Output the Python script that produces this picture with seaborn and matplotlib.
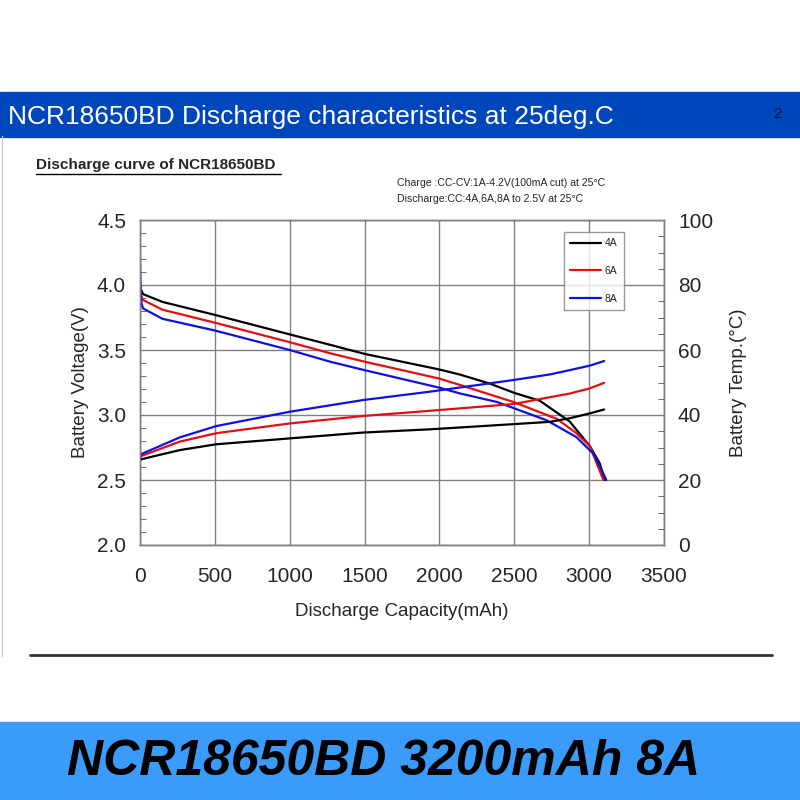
import pandas as pd
import seaborn as sns
import matplotlib.pyplot as plt
from matplotlib.patches import Rectangle
from matplotlib.lines import Line2D
from matplotlib.ticker import MultipleLocator

# data
cap_4a_v = [0, 5, 20, 150, 500, 1000, 1270, 1500, 2000, 2140, 2340, 2500, 2670, 2870, 3005, 3070, 3105]
volt_4a = [4.02, 3.97, 3.93, 3.87, 3.77, 3.62, 3.54, 3.47, 3.35, 3.31, 3.24, 3.17, 3.11, 2.95, 2.76, 2.63, 2.50]
cap_6a_v = [0, 5, 20, 150, 500, 1000, 1270, 1500, 2000, 2140, 2495, 2785, 2915, 3005, 3095]
volt_6a = [3.98, 3.92, 3.885, 3.81, 3.71, 3.56, 3.475, 3.41, 3.28, 3.23, 3.10, 2.97, 2.86, 2.76, 2.50]
cap_8a_v = [0, 3, 10, 20, 150, 500, 1000, 1270, 1500, 2000, 2140, 2385, 2715, 2915, 3030, 3115]
volt_8a = [4.18, 4.0, 3.86, 3.82, 3.74, 3.65, 3.50, 3.41, 3.345, 3.21, 3.165, 3.10, 2.96, 2.83, 2.70, 2.50]

cap_temp = [0, 10, 265, 510, 1000, 1490, 1940, 2500, 2740, 2870, 3005, 3100]
temp_4a = [26.0, 26.4, 29.2, 31.0, 32.8, 34.6, 35.6, 37.2, 37.9, 39.0, 40.5, 41.7]
temp_6a = [26.8, 27.4, 31.8, 34.4, 37.4, 39.7, 41.3, 43.4, 45.5, 46.6, 48.2, 49.9]
temp_8a = [27.4, 28.0, 33.1, 36.6, 41.0, 44.6, 47.2, 50.8, 52.5, 53.8, 55.2, 56.6]

labels = ["4A", "6A", "8A"]
colors = ["#000000", "#e01010", "#1010e0"]

volt = pd.concat([
    pd.DataFrame({"cap": cap_4a_v, "v": volt_4a, "cur": "4A"}),
    pd.DataFrame({"cap": cap_6a_v, "v": volt_6a, "cur": "6A"}),
    pd.DataFrame({"cap": cap_8a_v, "v": volt_8a, "cur": "8A"}),
])
temp = pd.concat([
    pd.DataFrame({"cap": cap_temp, "t": temp_4a, "cur": "4A"}),
    pd.DataFrame({"cap": cap_temp, "t": temp_6a, "cur": "6A"}),
    pd.DataFrame({"cap": cap_temp, "t": temp_8a, "cur": "8A"}),
])

sns.set_style("white")
plt.rcParams['font.family'] = ['Liberation Sans', 'DejaVu Sans']

fig = plt.figure(figsize=(8, 8), dpi=100)

# slide decorations
fig.patches.append(Rectangle((0, 0.82875), 1, 0.05625, transform=fig.transFigure,
                             color="#0046bb", zorder=0))
fig.patches.append(Rectangle((0, 0), 1, 0.0975, transform=fig.transFigure,
                             color="#3a9bfb", zorder=0))
fig.lines.append(Line2D([0.0375, 0.965], [0.18125, 0.18125], transform=fig.transFigure,
                        color="#333333", lw=2))
fig.lines.append(Line2D([0.002, 0.002], [0.18, 0.83], transform=fig.transFigure,
                        color="#cccccc", lw=1))

fig.text(0.01, 0.854, "NCR18650BD Discharge characteristics at 25deg.C", color="white",
         fontsize=19, va="center", ha="left")
fig.text(0.9725, 0.857, "2", color="#15153a", fontsize=11, va="center", ha="center")
fig.text(0.045, 0.794, "Discharge curve of NCR18650BD", fontsize=11, fontweight="bold",
         va="center", ha="left")
fig.lines.append(Line2D([0.045, 0.351], [0.783, 0.783], transform=fig.transFigure,
                        color="black", lw=1))
fig.text(0.496, 0.771, "Charge :CC-CV:1A-4.2V(100mA cut) at 25°C", fontsize=7.6,
         va="center", ha="left")
fig.text(0.496, 0.751, "Discharge:CC:4A,6A,8A to 2.5V at 25°C", fontsize=7.6,
         va="center", ha="left")
fig.text(0.48, 0.047, "NCR18650BD 3200mAh 8A", fontsize=36, fontweight="bold",
         fontstyle="italic", va="center", ha="center", color="black")

ax = fig.add_axes([0.175, 0.31875, 0.655, 0.40625])
ax2 = ax.twinx()

sns.lineplot(data=volt, x="cap", y="v", hue="cur", palette=colors, sort=False,
             estimator=None, lw=1.6, ax=ax)
sns.lineplot(data=temp, x="cap", y="t", hue="cur", palette=colors, sort=False,
             estimator=None, lw=1.6, ax=ax2, legend=False)

ax.set_xlim(0, 3500)
ax.set_ylim(2.0, 4.5)
ax2.set_ylim(0, 100)
ax.xaxis.set_major_locator(MultipleLocator(500))
ax.xaxis.set_minor_locator(MultipleLocator(50))
ax.yaxis.set_major_locator(MultipleLocator(0.5))
ax.yaxis.set_minor_locator(MultipleLocator(0.1))
ax2.yaxis.set_major_locator(MultipleLocator(20))
ax2.yaxis.set_minor_locator(MultipleLocator(5))
ax.yaxis.set_major_formatter(plt.FormatStrFormatter("%.1f"))

ax.grid(True, which="major", color="#808080", lw=1)
for a in (ax, ax2):
    for s in a.spines.values():
        s.set_color("#808080")
        s.set_linewidth(1)
    a.tick_params(which="both", direction="in", color="#555555", labelsize=15)
    a.tick_params(which="major", length=0, pad=10)
    a.tick_params(which="minor", length=4)
ax.tick_params(axis="x", which="major", pad=16)

ax.set_xlabel("Discharge Capacity(mAh)", fontsize=13.5, labelpad=12)
ax.set_ylabel("Battery Voltage(V)", fontsize=13.5, labelpad=6)
ax2.set_ylabel("Battery Temp.(°C)", fontsize=13.5, labelpad=12)

handles, _ = ax.get_legend_handles_labels()
leg = ax.legend(handles, labels, loc="upper left", bbox_to_anchor=(0.809, 0.963),
                fontsize=7.5, frameon=True, fancybox=False, edgecolor="#808080",
                handlelength=3, labelspacing=1.7, handletextpad=0.3,
                borderpad=0.6, borderaxespad=0)
leg.get_frame().set_linewidth(1)

fig.savefig("out.png", dpi=100)
